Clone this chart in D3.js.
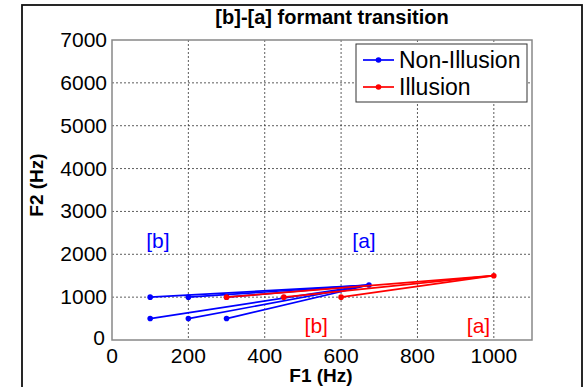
<!DOCTYPE html>
<html>
<head>
<meta charset="utf-8">
<script src="https://cdn.jsdelivr.net/npm/d3@7"></script>
<style>
  body { margin: 0; background: #fff; }
  text { font-family: "Liberation Sans", Arial, sans-serif; }
</style>
</head>
<body>
<div id="chart"></div>
<script>
// Start points of the transitions (F1, F2) and the shared end point
const nonIllusionStarts = [[100, 1000], [200, 1000], [300, 1000], [100, 500], [200, 500], [300, 500]];
const nonIllusionEnd = [673, 1283];
const illusionStarts = [[300, 1000], [450, 1000], [600, 1000]];
const illusionEnd = [1000, 1500];

const xTicks = [0, 200, 400, 600, 800, 1000];
const yTicks = [0, 1000, 2000, 3000, 4000, 5000, 6000, 7000];

const labels = [
    { text: "[b]", f1: 120, f2: 2300, color: "#0000ff" },
    { text: "[a]", f1: 660, f2: 2300, color: "#0000ff" },
    { text: "[b]", f1: 535, f2: 330, color: "#ff0000" },
    { text: "[a]", f1: 960, f2: 330, color: "#ff0000" }
];

const series = [
    { name: "Non-Illusion", color: "#0000ff", starts: nonIllusionStarts, end: nonIllusionEnd },
    { name: "Illusion", color: "#ff0000", starts: illusionStarts, end: illusionEnd }
];

const width = 586;
const height = 387;
const plot = { left: 112, right: 532, top: 40, bottom: 340 };

const svg = d3.select("#chart")
    .append("svg")
    .attr("width", width)
    .attr("height", height);

// figure frame
svg.append("rect")
    .attr("x", 22).attr("y", 5)
    .attr("width", 560).attr("height", 400)
    .attr("fill", "#fff")
    .attr("stroke", "#111")
    .attr("stroke-width", 1.8);

const x = d3.scaleLinear().domain([0, 1100]).range([plot.left, plot.right]);
const y = d3.scaleLinear().domain([0, 7000]).range([plot.bottom, plot.top]);

// grid lines
svg.append("g")
    .selectAll("line")
    .data(xTicks.filter(d => d > 0))
    .enter()
    .append("line")
    .attr("x1", d => x(d)).attr("x2", d => x(d))
    .attr("y1", plot.top).attr("y2", plot.bottom)
    .attr("stroke", "#333")
    .attr("stroke-width", 0.8)
    .attr("stroke-dasharray", "2,2");

svg.append("g")
    .selectAll("line")
    .data(yTicks.filter(d => d > 0 && d < 7000))
    .enter()
    .append("line")
    .attr("x1", plot.left).attr("x2", plot.right)
    .attr("y1", d => y(d)).attr("y2", d => y(d))
    .attr("stroke", "#333")
    .attr("stroke-width", 0.8)
    .attr("stroke-dasharray", "2,2");

// plot box
svg.append("rect")
    .attr("x", plot.left).attr("y", plot.top)
    .attr("width", plot.right - plot.left)
    .attr("height", plot.bottom - plot.top)
    .attr("fill", "none")
    .attr("stroke", "#888")
    .attr("stroke-width", 1.5);

// tick labels
svg.append("g")
    .selectAll("text")
    .data(xTicks)
    .enter()
    .append("text")
    .attr("x", d => x(d))
    .attr("y", 363)
    .attr("text-anchor", "middle")
    .attr("font-size", "21px")
    .attr("fill", "#000")
    .text(d => d);

svg.append("g")
    .selectAll("text")
    .data(yTicks)
    .enter()
    .append("text")
    .attr("x", d => d === 0 ? 105 : 107)
    .attr("y", d => d === 0 ? y(d) + 5 : y(d) + 7)
    .attr("text-anchor", "end")
    .attr("font-size", "21px")
    .attr("fill", "#000")
    .text(d => d);

// title and axis labels
svg.append("text")
    .attr("x", 332).attr("y", 24)
    .attr("text-anchor", "middle")
    .attr("font-size", "20px")
    .attr("font-weight", "bold")
    .text("[b]-[a] formant transition");

svg.append("text")
    .attr("x", 321).attr("y", 382)
    .attr("text-anchor", "middle")
    .attr("font-size", "19px")
    .attr("font-weight", "bold")
    .text("F1 (Hz)");

svg.append("text")
    .attr("transform", "translate(43,185) rotate(-90)")
    .attr("text-anchor", "middle")
    .attr("font-size", "19px")
    .attr("font-weight", "bold")
    .text("F2 (Hz)");

// transition lines
series.forEach(s => {
    const g = svg.append("g");
    g.selectAll("line")
        .data(s.starts)
        .enter()
        .append("line")
        .attr("x1", d => x(d[0])).attr("y1", d => y(d[1]))
        .attr("x2", x(s.end[0])).attr("y2", y(s.end[1]))
        .attr("stroke", s.color)
        .attr("stroke-width", 1.7);
    g.selectAll("circle")
        .data(s.starts.concat([s.end]))
        .enter()
        .append("circle")
        .attr("cx", d => x(d[0])).attr("cy", d => y(d[1]))
        .attr("r", 2.8)
        .attr("fill", s.color);
});

// annotations
svg.append("g")
    .selectAll("text")
    .data(labels)
    .enter()
    .append("text")
    .attr("x", d => x(d.f1))
    .attr("y", d => y(d.f2) + 7)
    .attr("text-anchor", "middle")
    .attr("font-size", "21px")
    .attr("fill", d => d.color)
    .text(d => d.text);

// legend
const legend = svg.append("g");
legend.append("rect")
    .attr("x", 356).attr("y", 44)
    .attr("width", 171).attr("height", 58)
    .attr("fill", "#fff")
    .attr("stroke", "#333")
    .attr("stroke-width", 1);

series.forEach((s, i) => {
    const ly = 60 + i * 27;
    legend.append("line")
        .attr("x1", 363).attr("x2", 394)
        .attr("y1", ly).attr("y2", ly)
        .attr("stroke", s.color)
        .attr("stroke-width", 1.7);
    legend.append("circle")
        .attr("cx", 378.5).attr("cy", ly)
        .attr("r", 2.8)
        .attr("fill", s.color);
    legend.append("text")
        .attr("x", 399).attr("y", ly + 8)
        .attr("font-size", "23px")
        .attr("fill", "#000")
        .text(s.name);
});
</script>
</body>
</html>
